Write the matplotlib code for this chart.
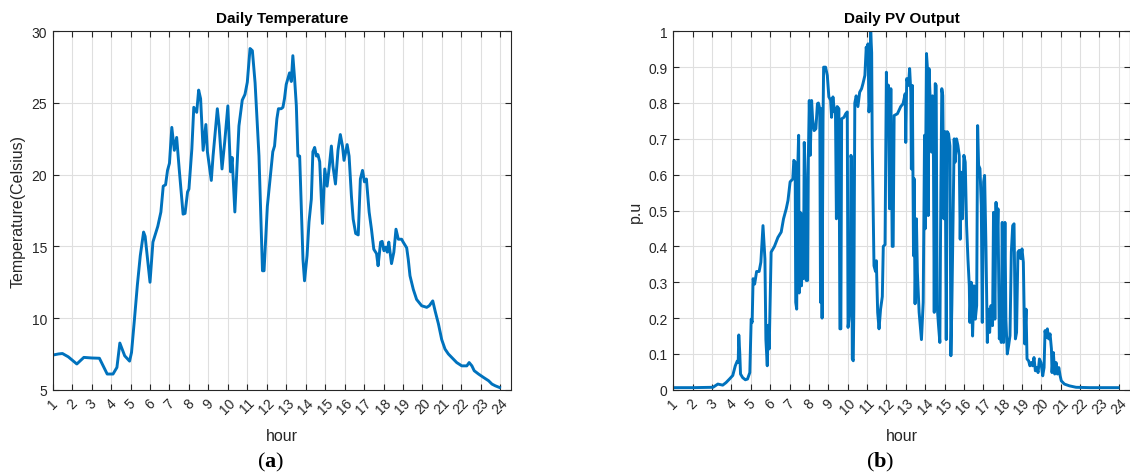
import matplotlib
matplotlib.use("Agg")
import matplotlib.pyplot as plt

# ---------------- data ----------------
temp_hours = [1.0, 1.3, 1.5, 1.8, 2.24, 2.6, 3.0, 3.4, 3.8, 4.1, 4.3, 4.45, 4.7, 4.95,
              5.05, 5.2, 5.35, 5.5, 5.67, 5.75, 6.0, 6.15, 6.4, 6.56, 6.68, 6.8, 6.9,
              7.0, 7.12, 7.25, 7.37, 7.5, 7.7, 7.8, 7.93, 8.0, 8.15, 8.25, 8.4, 8.5,
              8.6, 8.73, 8.87, 8.95, 9.15, 9.24, 9.46, 9.55, 9.7, 9.84, 10.0, 10.14,
              10.22, 10.36, 10.57, 10.74, 10.88, 11.0, 11.14, 11.26, 11.4, 11.6, 11.78,
              11.86, 12.03, 12.31, 12.4, 12.52, 12.6, 12.74, 12.83, 12.91, 13.0, 13.17,
              13.26, 13.34, 13.43, 13.52, 13.6, 13.69, 13.77, 13.86, 13.94, 14.07,
              14.17, 14.29, 14.37, 14.46, 14.55, 14.63, 14.72, 14.86, 14.98, 15.1,
              15.2, 15.32, 15.4, 15.53, 15.66, 15.78, 15.89, 15.97, 16.13, 16.23,
              16.35, 16.44, 16.57, 16.7, 16.81, 16.92, 17.02, 17.12, 17.26, 17.38,
              17.5, 17.64, 17.72, 17.85, 17.93, 18.02, 18.12, 18.19, 18.27, 18.41,
              18.53, 18.64, 18.76, 18.93, 19.01, 19.19, 19.27, 19.36, 19.53, 19.7,
              19.96, 20.22, 20.35, 20.53, 20.65, 20.82, 20.99, 21.16, 21.33, 21.5,
              21.76, 22.02, 22.28, 22.4, 22.54, 22.66, 22.88, 23.14, 23.4, 23.57,
              23.74, 23.96]
temp_values = [7.42, 7.5, 7.53, 7.3, 6.8, 7.26, 7.22, 7.2, 6.1, 6.1, 6.56, 8.26, 7.37, 7.0,
               7.6, 9.9, 12.3, 14.35, 16.0, 15.7, 12.5, 15.3, 16.4, 17.4, 19.2, 19.3,
               20.3, 20.8, 23.3, 21.7, 22.6, 20.4, 17.25, 17.3, 18.8, 19.0, 21.8, 24.7,
               24.35, 25.9, 25.3, 21.7, 23.5, 21.6, 19.6, 21.3, 24.6, 23.4, 20.4, 22.3,
               24.8, 20.2, 21.2, 17.4, 23.4, 25.2, 25.6, 26.45, 28.8, 28.65, 26.4, 21.3,
               13.3, 13.3, 17.8, 21.6, 22.0, 23.9, 24.6, 24.6, 24.7, 25.3, 26.3, 27.1,
               26.5, 28.3, 26.7, 24.8, 21.3, 21.3, 17.8, 14.1, 12.6, 14.35, 16.7, 18.3,
               21.6, 21.9, 21.3, 21.4, 20.9, 16.6, 20.4, 19.2, 20.4, 22.0, 20.6, 19.35,
               21.7, 22.8, 22.0, 21.0, 22.1, 21.3, 18.5, 16.9, 15.9, 15.8, 19.7, 20.3,
               19.5, 19.7, 17.4, 16.2, 14.8, 14.5, 13.65, 15.3, 15.35, 14.7, 14.95,
               14.6, 15.3, 13.8, 14.6, 16.2, 15.5, 15.5, 15.3, 14.9, 14.1, 12.95, 12.0,
               11.3, 10.86, 10.75, 10.86, 11.2, 10.5, 9.6, 8.5, 7.84, 7.5, 7.26, 6.9,
               6.67, 6.67, 6.9, 6.67, 6.33, 6.1, 5.86, 5.63, 5.4, 5.28, 5.16]

pv_hours = [1.0, 2.0, 3.05, 3.3, 3.55, 3.72, 3.9, 4.07, 4.2, 4.3, 4.35, 4.38, 4.43, 4.47,
            4.58, 4.72, 4.83, 4.95, 5.02, 5.07, 5.12, 5.2, 5.3, 5.43, 5.52, 5.63, 5.73,
            5.78, 5.85, 5.9, 5.95, 6.05, 6.22, 6.4, 6.57, 6.69, 6.83, 6.92, 7.03, 7.17,
            7.22, 7.29, 7.32, 7.37, 7.42, 7.47, 7.5, 7.55, 7.62, 7.67, 7.72, 7.76, 7.81,
            7.86, 7.93, 7.97, 8.02, 8.07, 8.14, 8.19, 8.27, 8.36, 8.44, 8.49, 8.56, 8.6,
            8.65, 8.68, 8.73, 8.76, 8.86, 8.95, 9.03, 9.12, 9.17, 9.24, 9.32, 9.37, 9.42,
            9.46, 9.55, 9.6, 9.65, 9.69, 9.81, 9.9, 9.98, 10.02, 10.07, 10.14, 10.17,
            10.2, 10.24, 10.29, 10.32, 10.37, 10.44, 10.53, 10.62, 10.72, 10.79, 10.89,
            10.96, 11.0, 11.05, 11.1, 11.14, 11.19, 11.24, 11.27, 11.36, 11.44, 11.48,
            11.55, 11.62, 11.7, 11.79, 11.84, 11.93, 12.0, 12.05, 12.1, 12.16, 12.23,
            12.3, 12.35, 12.4, 12.57, 12.74, 12.86, 12.97, 13.0, 13.05, 13.14, 13.2,
            13.26, 13.29, 13.34, 13.4, 13.43, 13.48, 13.55, 13.6, 13.69, 13.81, 13.9,
            13.97, 14.0, 14.07, 14.12, 14.16, 14.2, 14.26, 14.33, 14.38, 14.43, 14.47,
            14.52, 14.57, 14.62, 14.69, 14.76, 14.81, 14.86, 14.91, 14.97, 15.03, 15.09,
            15.14, 15.21, 15.28, 15.33, 15.38, 15.45, 15.5, 15.55, 15.62, 15.69, 15.76,
            15.81, 15.86, 15.93, 16.0, 16.07, 16.14, 16.21, 16.28, 16.31, 16.38, 16.45,
            16.52, 16.59, 16.66, 16.71, 16.76, 16.83, 16.9, 16.95, 17.02, 17.07, 17.14,
            17.21, 17.26, 17.33, 17.4, 17.48, 17.53, 17.6, 17.66, 17.71, 17.76, 17.83,
            17.88, 17.93, 17.98, 18.05, 18.12, 18.17, 18.24, 18.31, 18.38, 18.45, 18.52,
            18.59, 18.66, 18.72, 18.79, 18.86, 18.93, 19.0, 19.07, 19.14, 19.21, 19.26,
            19.34, 19.41, 19.48, 19.55, 19.62, 19.69, 19.76, 19.83, 19.9, 19.98, 20.07,
            20.14, 20.19, 20.24, 20.31, 20.38, 20.45, 20.52, 20.55, 20.62, 20.69, 20.76,
            20.83, 20.9, 20.97, 21.03, 21.19, 21.45, 21.79, 22.5, 23.96]
pv_values = [0.006, 0.006, 0.007, 0.016, 0.013, 0.02, 0.03, 0.04, 0.067, 0.08, 0.076, 0.153,
             0.104, 0.044, 0.034, 0.028, 0.03, 0.048, 0.197, 0.188, 0.31, 0.295, 0.33,
             0.33, 0.356, 0.458, 0.365, 0.14, 0.067, 0.18, 0.114, 0.384, 0.40, 0.425,
             0.44, 0.477, 0.505, 0.528, 0.58, 0.588, 0.64, 0.635, 0.244, 0.225, 0.61,
             0.71, 0.27, 0.495, 0.29, 0.49, 0.31, 0.69, 0.6, 0.305, 0.305, 0.644, 0.807,
             0.654, 0.807, 0.756, 0.723, 0.728, 0.798, 0.8, 0.784, 0.244, 0.784, 0.2,
             0.756, 0.9, 0.9, 0.877, 0.817, 0.808, 0.76, 0.817, 0.775, 0.784, 0.477,
             0.79, 0.784, 0.17, 0.17, 0.756, 0.76, 0.77, 0.775, 0.174, 0.197, 0.253,
             0.654, 0.645, 0.086, 0.081, 0.226, 0.8, 0.82, 0.79, 0.83, 0.84, 0.854,
             0.877, 0.956, 0.933, 0.965, 0.775, 0.803, 1.0, 0.94, 0.68, 0.346, 0.33,
             0.36, 0.216, 0.17, 0.225, 0.26, 0.4, 0.405, 0.886, 0.756, 0.85, 0.505,
             0.84, 0.40, 0.40, 0.765, 0.77, 0.79, 0.798, 0.826, 0.69, 0.868, 0.849,
             0.896, 0.831, 0.616, 0.849, 0.374, 0.589, 0.24, 0.477, 0.328, 0.216, 0.14,
             0.244, 0.71, 0.449, 0.938, 0.896, 0.486, 0.896, 0.812, 0.663, 0.82, 0.645,
             0.216, 0.854, 0.849, 0.235, 0.18, 0.132, 0.55, 0.84, 0.821, 0.477, 0.72,
             0.14, 0.72, 0.714, 0.68, 0.095, 0.235, 0.505, 0.7, 0.635, 0.7, 0.682, 0.654,
             0.42, 0.607, 0.477, 0.654, 0.635, 0.458, 0.365, 0.29, 0.188, 0.3, 0.15,
             0.29, 0.197, 0.235, 0.737, 0.626, 0.617, 0.514, 0.188, 0.58, 0.598, 0.40,
             0.132, 0.225, 0.16, 0.235, 0.179, 0.495, 0.197, 0.523, 0.393, 0.505, 0.142,
             0.188, 0.132, 0.467, 0.132, 0.467, 0.197, 0.1, 0.123, 0.151, 0.384, 0.458,
             0.463, 0.142, 0.16, 0.384, 0.389, 0.366, 0.393, 0.356, 0.128, 0.225, 0.086,
             0.081, 0.067, 0.076, 0.067, 0.09, 0.053, 0.062, 0.048, 0.086, 0.076, 0.039,
             0.062, 0.165, 0.146, 0.17, 0.142, 0.156, 0.114, 0.048, 0.104, 0.044, 0.076,
             0.044, 0.062, 0.039, 0.025, 0.016, 0.011, 0.007, 0.006, 0.006]

hour_ticks = list(range(1, 25))
temp_yticks = [5, 10, 15, 20, 25, 30]
pv_yticks = [0, 0.1, 0.2, 0.3, 0.4, 0.5, 0.6, 0.7, 0.8, 0.9, 1.0]
pv_yticklabels = ["0", "0.1", "0.2", "0.3", "0.4", "0.5", "0.6", "0.7", "0.8", "0.9", "1"]

# ---------------- style ----------------
plt.rcParams['font.family'] = ['Liberation Sans', 'DejaVu Sans']
plt.rcParams['mathtext.fontset'] = 'custom'
plt.rcParams['mathtext.rm'] = 'Liberation Serif'
plt.rcParams['mathtext.bf'] = 'Liberation Serif:bold'

LINE = '#0072BD'
AX = '#262626'
W, H = 1130, 477
fig = plt.figure(figsize=(W / 100, H / 100), dpi=100)


def make_axes(x0, x1, y0, y1):
    return fig.add_axes([x0 / W, 1 - y1 / H, (x1 - x0) / W, (y1 - y0) / H])


def style(ax, yticks, ylim):
    ax.set_xlim(1, 24.55)
    ax.set_ylim(*ylim)
    ax.set_xticks(hour_ticks)
    ax.set_xticklabels([str(h) for h in hour_ticks], rotation=45, ha='center', va='top')
    ax.set_yticks(yticks)
    ax.grid(True, color='#DFDFDF', linewidth=0.8)
    ax.set_axisbelow(True)
    ax.tick_params(direction='in', length=4, width=0.8, colors=AX, labelsize=10,
                   top=True, right=True, labelcolor=AX, pad=4)
    for s in ax.spines.values():
        s.set_color(AX)
        s.set_linewidth(0.8)


ax1 = make_axes(52.7, 511, 32.3, 390.8)
ax1.plot(temp_hours, temp_values, color=LINE, linewidth=2.1)
style(ax1, temp_yticks, (5, 30))
ax1.set_title('Daily Temperature', fontsize=11, fontweight='bold', pad=7, color='#000000')
ax1.set_xlabel('hour', fontsize=11.5, color=AX, labelpad=8)
ax1.set_ylabel('Temperature(Celsius)', fontsize=11.5, color=AX, labelpad=4)

ax2 = make_axes(673.3, 1129.5, 32.3, 390.8)
ax2.plot(pv_hours, pv_values, color=LINE, linewidth=2.1)
style(ax2, pv_yticks, (0, 1))
ax2.set_yticklabels(pv_yticklabels)
ax2.set_title('Daily PV Output', fontsize=11, fontweight='bold', pad=7, color='#000000')
ax2.set_xlabel('hour', fontsize=11.5, color=AX, labelpad=8)
ax2.set_ylabel('p.u', fontsize=11.5, color=AX, labelpad=4)

fig.text(271 / W, 1 - 462 / H, r'($\mathbf{a}$)', fontsize=16, ha='center', va='center',
         family='Liberation Serif')
fig.text(880 / W, 1 - 462 / H, r'($\mathbf{b}$)', fontsize=16, ha='center', va='center',
         family='Liberation Serif')

fig.savefig('out.png', dpi=100)
